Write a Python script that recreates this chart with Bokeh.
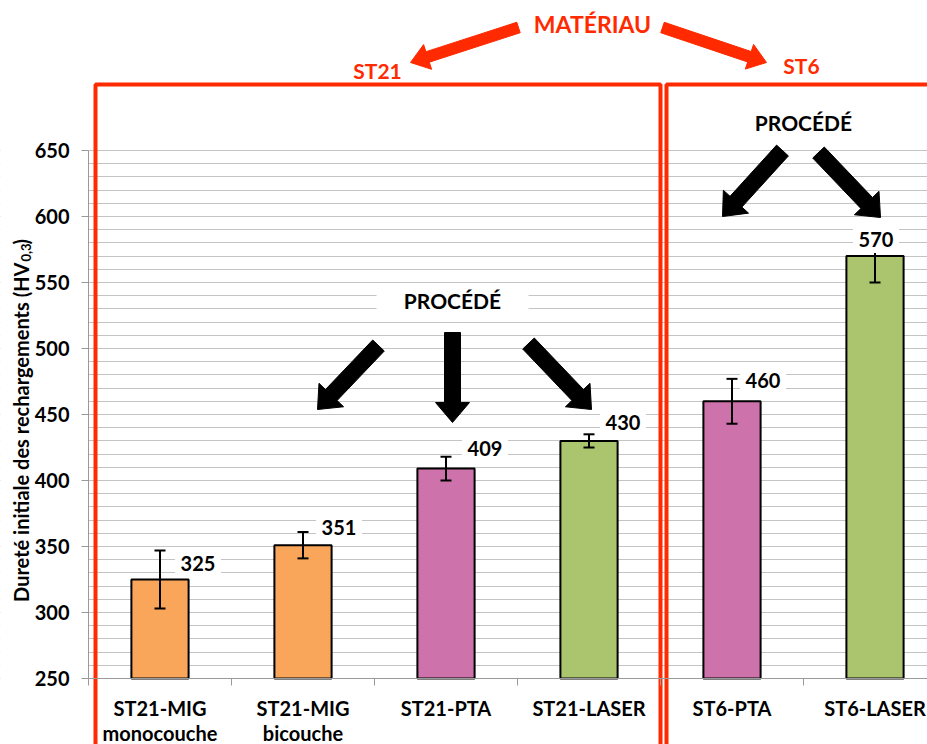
import math
from bokeh.plotting import figure
from bokeh.models import Range1d, FixedTicker
from bokeh.core.properties import value
from bokeh.embed import file_html
from bokeh.resources import INLINE

# ---------------- data ----------------
categories = ["ST21-MIG\nmonocouche", "ST21-MIG\nbicouche", "ST21-PTA",
              "ST21-LASER", "ST6-PTA", "ST6-LASER"]
hardness = [325, 351, 409, 430, 460, 570]
errors = [22, 10, 9, 5, 17, 20]
bar_colors = ["#F9A65A", "#F9A65A", "#CD72AB", "#ABC46E", "#CD72AB", "#ABC46E"]
y_ticks = [250, 300, 350, 400, 450, 500, 550, 600, 650]
y_minor = list(range(250, 651, 10))

# ---------------- layout helpers (reference pixels -> data) ----------------
W, H = 927, 744
X0_PX, CAT_PX = 88, 143
Y650_PX, UNIT_PX = 150, 1.32


def dx(px):
    return (px - X0_PX) / CAT_PX


def dy(py):
    return 650 - (py - Y650_PX) / UNIT_PX


FONT = value("Lato")
RED = "#FF2A00"
AXIS_GRAY = "#9A9A9A"

xs = [i + 0.5 for i in range(len(categories))]

p = figure(width=W, height=H, output_backend="svg", toolbar_location=None,
           x_range=Range1d(dx(0), dx(W)), y_range=Range1d(dy(H), dy(0)),
           min_border_left=0, min_border_right=0, min_border_top=0,
           min_border_bottom=0)
p.outline_line_color = None
p.background_fill_color = "white"
p.xgrid.visible = False

# y axis (fixed at x = 0, i.e. left edge of the categories)
p.yaxis.fixed_location = 0
p.yaxis.ticker = FixedTicker(ticks=y_ticks, minor_ticks=y_minor)
p.yaxis.bounds = (250, 650)
p.yaxis.axis_line_color = AXIS_GRAY
p.yaxis.major_tick_line_color = AXIS_GRAY
p.yaxis.major_tick_out = 7
p.yaxis.major_tick_in = 0
p.yaxis.minor_tick_out = 0
p.yaxis.minor_tick_in = 0
p.yaxis.major_label_standoff = 12
p.yaxis.major_label_text_font = "Lato"
p.yaxis.major_label_text_font_style = "bold"
p.yaxis.major_label_text_font_size = "20px"
p.yaxis.major_label_text_color = "black"
p.ygrid.ticker = p.yaxis.ticker
p.ygrid.grid_line_color = "#C4C4C4"
p.ygrid.minor_grid_line_color = "#C4C4C4"

# x axis (fixed at y = 250)
p.xaxis.fixed_location = 250
p.xaxis.bounds = (0, 10)
p.xaxis.ticker = FixedTicker(ticks=xs, minor_ticks=list(range(len(categories) + 1)))
p.xaxis.major_label_overrides = {x: c for x, c in zip(xs, categories)}
p.xaxis.axis_line_color = AXIS_GRAY
p.xaxis.major_tick_out = 0
p.xaxis.major_tick_in = 0
p.xaxis.minor_tick_line_color = AXIS_GRAY
p.xaxis.minor_tick_out = 7
p.xaxis.minor_tick_in = 0
p.xaxis.major_label_standoff = 10
p.xaxis.major_label_text_font = "Lato"
p.xaxis.major_label_text_font_style = "bold"
p.xaxis.major_label_text_font_size = "20px"
p.xaxis.major_label_text_line_height = 1.05
p.xaxis.major_label_text_color = "black"

# white margin left of the value axis (hides grid lines there)
p.quad(left=[dx(0)], right=[0], bottom=[dy(H)], top=[dy(0)],
       fill_color="white", line_color=None)

# red material boxes
p.line([dx(95), dx(95), dx(660), dx(660)], [dy(770), dy(84), dy(84), dy(770)],
       line_color=RED, line_width=4)
p.line([dx(666), dx(666), dx(960)], [dy(770), dy(84), dy(84)],
       line_color=RED, line_width=4)

# bars
p.vbar(x=xs, top=hardness, bottom=250, width=0.4, fill_color=bar_colors,
       line_color="black", line_width=2)

# error bars
lows = [v - e for v, e in zip(hardness, errors)]
highs = [v + e for v, e in zip(hardness, errors)]
p.segment(x0=xs, y0=lows, x1=xs, y1=highs, line_color="black", line_width=2)
p.scatter(x=xs + xs, y=lows + highs, marker="dash", size=11,
          line_color="black", line_width=2)

# value labels
lab_dx_px = [38, 36, 39, 34, 31, 1]
lab_dy_px = [16, 18, 20, 18, 21, 17]
lx = [x + o / CAT_PX for x, o in zip(xs, lab_dx_px)]
ly = [v + o / UNIT_PX for v, o in zip(hardness, lab_dy_px)]
p.rect(x=lx, y=ly, width=46, height=28, width_units="screen",
       height_units="screen", fill_color="white", line_color=None)
p.text(x=lx, y=ly, text=[str(v) for v in hardness], text_align="center",
       text_baseline="middle", text_font=FONT, text_font_style="bold",
       text_font_size="20px", text_color="black")


# arrows
def arrow_poly(tail, tip, w, hw, hl):
    (x0, y0), (x1, y1) = tail, tip
    L = math.hypot(x1 - x0, y1 - y0)
    ux, uy = (x1 - x0) / L, (y1 - y0) / L
    nx, ny = -uy, ux
    bx, by = x1 - ux * hl, y1 - uy * hl
    pts = [(x0 + nx * w / 2, y0 + ny * w / 2), (bx + nx * w / 2, by + ny * w / 2),
           (bx + nx * hw / 2, by + ny * hw / 2), (x1, y1),
           (bx - nx * hw / 2, by - ny * hw / 2), (bx - nx * w / 2, by - ny * w / 2),
           (x0 - nx * w / 2, y0 - ny * w / 2)]
    return [dx(a) for a, _ in pts], [dy(b) for _, b in pts]


black_arrows = [((378, 345), (317, 409)), ((452, 332), (452, 422)),
                ((528, 343), (591, 409)), ((782, 150), (722, 216)),
                ((818, 152), (880, 217))]
red_arrows = [((518, 27), (410, 62)), ((662, 27), (766, 62))]

bxs, bys = zip(*[arrow_poly(t, h, 16, 34, 20) for t, h in black_arrows])
p.patches(list(bxs), list(bys), fill_color="black", line_color="black")
rxs, rys = zip(*[arrow_poly(t, h, 11, 26, 18) for t, h in red_arrows])
p.patches(list(rxs), list(rys), fill_color=RED, line_color=RED)

# PROCÉDÉ labels
proc_pos = [(452, 300), (803, 122)]
p.rect(x=[dx(a) for a, _ in proc_pos], y=[dy(b) for _, b in proc_pos],
       width=152, height=32, width_units="screen", height_units="screen",
       fill_color="white", line_color=None)
p.text(x=[dx(a) for a, _ in proc_pos], y=[dy(b) for _, b in proc_pos],
       text=["PROCÉDÉ", "PROCÉDÉ"], text_align="center", text_baseline="middle",
       text_font=FONT, text_font_style="bold", text_font_size="21px",
       text_color="black")

# material labels
mat_pos = [(592, 23), (377, 70), (801, 65)]
mat_txt = ["MATÉRIAU", "ST21", "ST6"]
mat_size = ["23px", "21px", "21px"]
for (a, b), t, s in zip(mat_pos, mat_txt, mat_size):
    p.text(x=[dx(a)], y=[dy(b)], text=[t], text_align="center",
           text_baseline="middle", text_font=FONT, text_font_style="bold",
           text_font_size=s, text_color=RED)

# y axis title with subscript
ytitle_parts = ["Dureté initiale des rechargements (HV", "0,3", ")"]
ytitle_px = [(20, 262), (25, 261), (20, 244)]
ytitle_align = ["right", "left", "left"]
ytitle_size = ["20px", "13px", "20px"]
for t, (a, b), al, s in zip(ytitle_parts, ytitle_px, ytitle_align, ytitle_size):
    p.text(x=[dx(a)], y=[dy(b)], text=[t], angle=math.pi / 2,
           text_align=al, text_baseline="middle", text_font=FONT,
           text_font_style="bold", text_font_size=s, text_color="black")

open("out.html", "w").write(file_html(p, INLINE))
